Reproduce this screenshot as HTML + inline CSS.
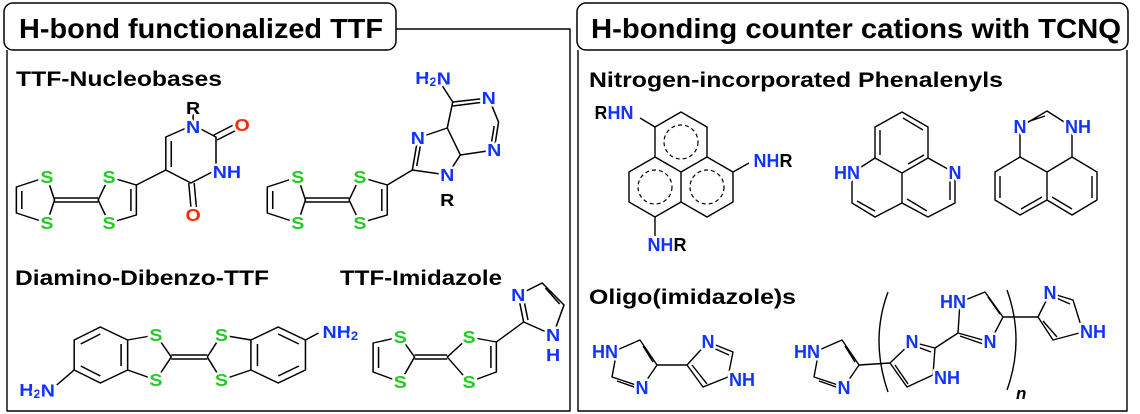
<!DOCTYPE html>
<html><head><meta charset="utf-8"><style>
html,body{margin:0;padding:0;background:#fff;}
svg{display:block;}
text{font-family:"Liberation Sans",Arial,sans-serif;font-weight:bold;}
.a{font-size:18px;text-anchor:middle;dominant-baseline:central;paint-order:stroke;stroke:#fff;stroke-width:5px;stroke-linejoin:round;}
.s{fill:#22cc22;} .n{fill:#1133ff;} .o{fill:#ff2a00;} .k{fill:#000;}
.b{fill:none;stroke:#000;stroke-width:1.4;stroke-linejoin:round;}
.d{fill:none;stroke:#000;stroke-width:1.2;stroke-dasharray:4 3;}
.h{font-size:21px;fill:#000;}
</style></head><body>
<svg width="1140" height="414" viewBox="0 0 1140 414" xmlns="http://www.w3.org/2000/svg">
<path d="M7 50 V411 H570 V29 H396" class="b" stroke-width="1.5"/>
<rect x="4" y="3" width="392" height="47" rx="9" fill="#fff" stroke="#000" stroke-width="1.5"/>
<text x="19" y="38" font-size="28" textLength="364" lengthAdjust="spacingAndGlyphs">H-bond functionalized TTF</text>
<path d="M578 50 V411 H1127 V50" class="b" stroke-width="1.5"/>
<rect x="577" y="3" width="551" height="47" rx="9" fill="#fff" stroke="#000" stroke-width="1.5"/>
<text x="591" y="38" font-size="28" textLength="530" lengthAdjust="spacingAndGlyphs">H-bonding counter cations with TCNQ</text>

<text x="16" y="86" class="h" textLength="206" lengthAdjust="spacingAndGlyphs">TTF-Nucleobases</text>
<text x="15" y="285" class="h" textLength="254" lengthAdjust="spacingAndGlyphs">Diamino-Dibenzo-TTF</text>
<text x="340" y="285" class="h" textLength="162" lengthAdjust="spacingAndGlyphs">TTF-Imidazole</text>
<text x="589" y="87" class="h" textLength="414" lengthAdjust="spacingAndGlyphs">Nitrogen-incorporated Phenalenyls</text>
<text x="589" y="304" class="h" textLength="207" lengthAdjust="spacingAndGlyphs">Oligo(imidazole)s</text>

<g transform="scale(1.0909,1)">
 <path class="b" d="M43 177 L15 187 L15 213 L43 223 L50 200 Z M20 191 L20 209 M50 198 H90 M50 202 H90 M90 200 L100 177 L125 185 L125 215 L100 223 Z M120 189 V211 M125 185 L152 170"/>
 <path class="b" d="M152 170 L152 137 L177 125 L198 137 L198 170 L175 183 Z M157 167 V141 M173 183 L175 207 M178 183 L180 207 M196 135 L214 125 M199 140 L217 130 M177 125 V113"/>
 <text class="a s" x="43" y="177">S</text><text class="a s" x="43" y="223">S</text>
 <text class="a s" x="100" y="177">S</text><text class="a s" x="100" y="223">S</text>
 <text class="a k" x="177" y="108">R</text><text class="a n" x="177" y="127">N</text>
 <text class="a o" x="222" y="125">O</text><text class="a n" x="208" y="172">NH</text>
 <text class="a o" x="177" y="215">O</text>
 <path class="b" d="M273 177 L245 187 L245 213 L273 223 L280 200 Z M250 191 L250 209 M280 198 H320 M280 202 H320 M320 200 L330 177 L355 185 L355 215 L330 223 Z M350 189 V211 M355 185 L378 170"/>
 <path class="b" d="M378 170 L383 138 L410 128 L422 155 L410 175 Z M382 166 L386 142 M410 128 L415 102 L448 98 L457 122 L453 150 L422 155 M415 106 L444 102 M453 126 L450 146 M415 102 L405 85"/>
 <text class="a s" x="273" y="177">S</text><text class="a s" x="273" y="223">S</text>
 <text class="a s" x="330" y="177">S</text><text class="a s" x="330" y="223">S</text>
 <text class="a n" x="383" y="138">N</text><text class="a n" x="410" y="175">N</text>
 <text class="a k" x="410" y="200">R</text>
 <text class="a n" x="448" y="98">N</text><text class="a n" x="453" y="150">N</text>
 <text class="a n" x="397" y="78">H<tspan font-size="12" dy="4">2</tspan><tspan dy="-4">N</tspan></text>
</g>

<g transform="scale(1.0909,1)">
 <path class="b" d="M68 340 L92 327 L117 340 L117 370 L92 383 L68 370 Z M74 344 L92 334 M111 344 V366 M74 366 L92 376 M117 340 L143 335 M117 370 L143 380 M143 335 L157 357 L143 380 M157 355 H190 M157 359 H190 M190 357 L203 335 M190 357 L203 380 M203 335 L230 340 M203 380 L230 370 M230 340 L255 327 L280 340 L280 370 L255 383 L230 370 Z M236 344 V366 M255 334 L274 344 M255 376 L274 366 M280 340 L292 333 M68 370 L52 385"/>
 <text class="a s" x="143" y="335">S</text><text class="a s" x="143" y="380">S</text>
 <text class="a s" x="203" y="335">S</text><text class="a s" x="203" y="380">S</text>
 <text class="a n" x="34" y="390">H<tspan font-size="12" dy="4">2</tspan><tspan dy="-4">N</tspan></text>
 <text class="a n" x="312" y="332">NH<tspan font-size="12" dy="4">2</tspan></text>
 <path class="b" d="M367 337 L342 343 L342 372 L367 382 L380 357 Z M347 347 V368 M380 355 H410 M380 359 H410 M410 357 L430 337 L455 342 L455 372 L430 382 Z M450 346 V368 M455 342 L480 322 M480 322 L475 295 L497 283 L517 305 L507 335 L480 322 M484 320 L480 299 M500 288 L513 304"/>
 <text class="a s" x="367" y="337">S</text><text class="a s" x="367" y="382">S</text>
 <text class="a s" x="430" y="337">S</text><text class="a s" x="430" y="382">S</text>
 <text class="a n" x="475" y="295">N</text><text class="a n" x="507" y="335">N</text><text class="a n" x="507" y="355">H</text>
</g>

<path class="b" d="M655 127 L681 112 L707 127 L707 157 L681 172 L655 157 Z M655 157 L629 172 L629 202 L655 217 L681 202 L681 172 M707 157 L733 172 L733 202 L707 217 L681 202 M655 127 L640 118 M733 172 L749 163 M655 217 V236"/>
<circle cx="681" cy="142" r="17" class="d"/><circle cx="655" cy="187" r="17" class="d"/><circle cx="707" cy="187" r="17" class="d"/>
<text class="a" x="614" y="113"><tspan fill="#000">R</tspan><tspan fill="#1133ff">HN</tspan></text>
<text class="a" x="773" y="161"><tspan fill="#1133ff">NH</tspan><tspan fill="#000">R</tspan></text>
<text class="a" x="667" y="245"><tspan fill="#1133ff">NH</tspan><tspan fill="#000">R</tspan></text>

<path class="b" d="M875 127 L902 112 L928 127 L928 158 L902 173 L875 158 Z M880 130 V155 M903 118 L923 130 M902 173 L902 203 M875 158 L852 173 L852 203 L875 217 L902 203 M928 158 L955 173 L955 203 L928 217 L902 203 M857 201 L875 211 M950 176 V200 M907 199 L927 211 M908 164 L924 155"/>
<text class="a n" x="847" y="173">HN</text><text class="a n" x="955" y="173">N</text>

<path class="b" d="M1020 127 L1047 111 L1072 127 L1072 157 L1047 172 L1020 157 Z M1024 123 L1045 116 M1047 172 L1047 200 M1020 157 L995 172 L995 200 L1020 215 L1047 200 M1072 157 L1097 172 L1097 200 L1072 215 L1047 200 M1000 176 V198 M1021 209 L1042 197 M1092 176 V198 M1052 197 L1072 209"/>
<text class="a n" x="1020" y="127">N</text><text class="a n" x="1078" y="127">NH</text>

<path class="b" d="M617 350 L640 340 L657 365 L642 387 L612 377 Z M643 346 L653 362 M617 381 L637 388 M657 365 L687 365 M687 365 L708 342 L733 352 L728 377 L703 387 L687 365 M692 365 L707 384 M711 347 L729 355"/>
<text class="a n" x="605" y="352">HN</text><text class="a n" x="642" y="388">N</text>
<text class="a n" x="708" y="342">N</text><text class="a n" x="742" y="380">NH</text>
<path class="b" d="M819 350 L842 340 L859 365 L844 387 L814 377 Z M845 346 L855 362 M819 381 L839 388 M859 365 L890 363 M890 363 L912 342 L935 348 L933 375 L907 387 L890 363 M895 365 L908 384 M915 346 L931 352 M935 348 L958 333 M958 333 L960 302 L985 292 L1003 317 L990 342 L958 333 M960 336 L986 345 M988 297 L1000 314 M1003 317 L1038 317 M1038 317 L1050 293 L1073 300 L1083 332 L1053 340 L1038 317 M1043 321 L1057 337 M1054 297 L1070 304"/>
<path class="b" d="M888 292 Q870 340 888 392 M1007 290 Q1025 340 1007 390"/>
<text x="1016" y="399" font-size="17" font-style="italic" font-weight="normal" fill="#000">n</text>
<text class="a n" x="807" y="352">HN</text><text class="a n" x="844" y="388">N</text>
<text class="a n" x="912" y="342">N</text><text class="a n" x="947" y="378">NH</text>
<text class="a n" x="953" y="302">HN</text><text class="a n" x="990" y="342">N</text>
<text class="a n" x="1050" y="293">N</text><text class="a n" x="1093" y="332">NH</text>
</svg>
</body></html>
